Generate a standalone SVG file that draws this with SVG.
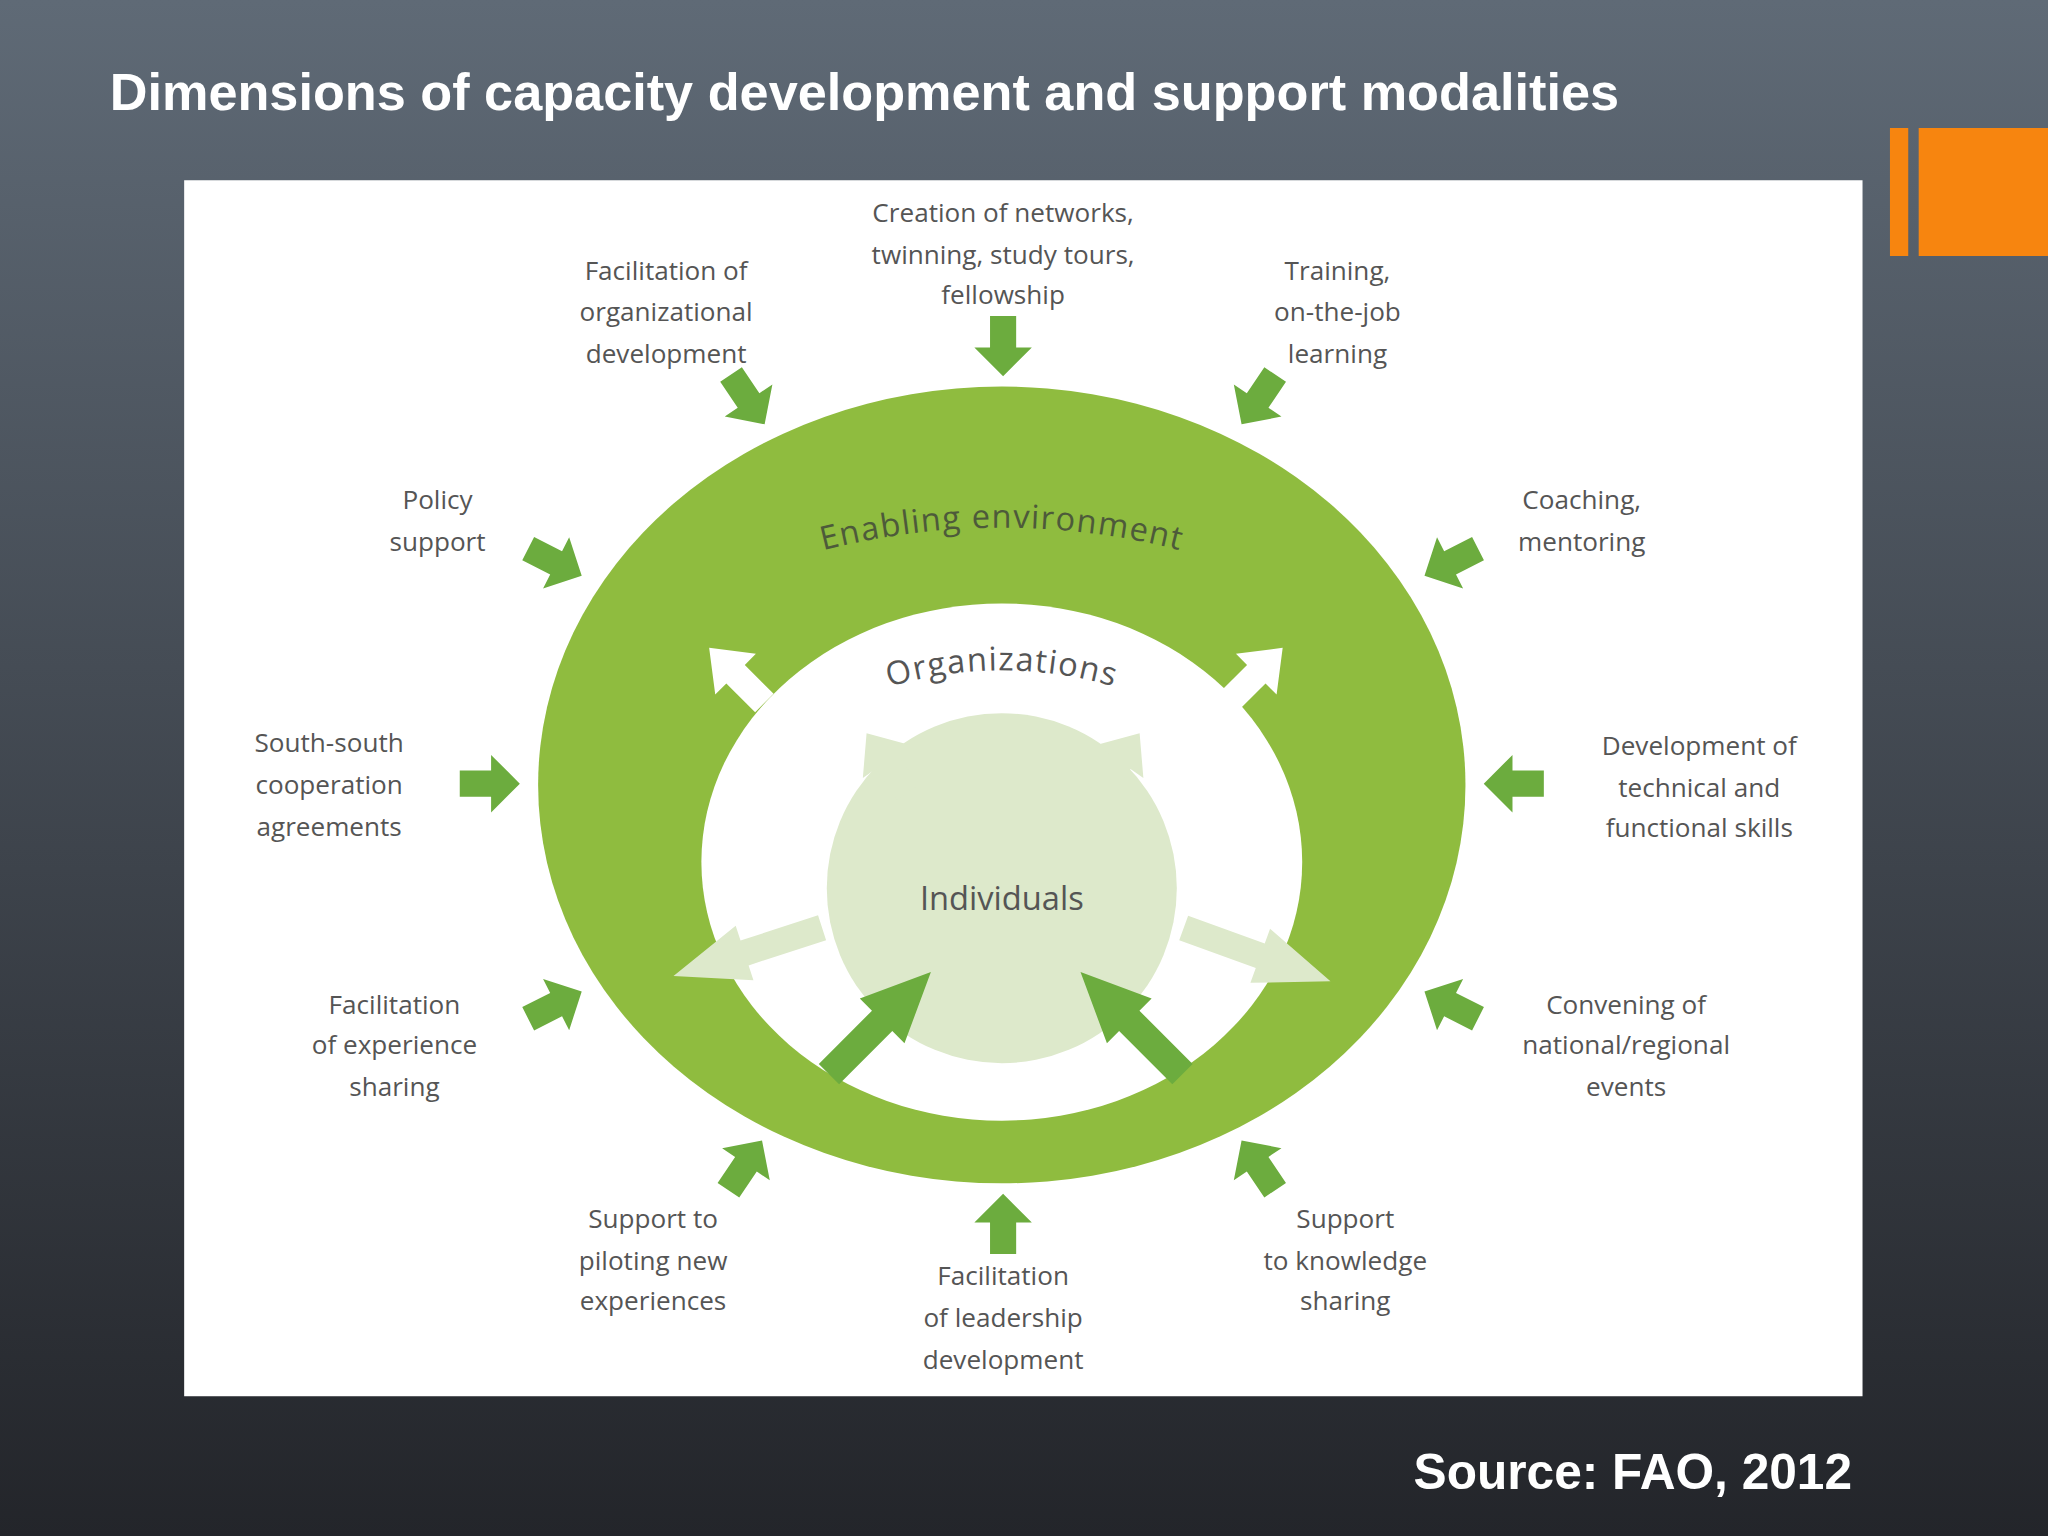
<svg xmlns="http://www.w3.org/2000/svg" width="2048" height="1536" viewBox="0 0 2048 1536">
<defs>
<linearGradient id="bg" x1="0" y1="0" x2="0" y2="1"><stop offset="0" stop-color="#5f6a76"/><stop offset="1" stop-color="#23252a"/></linearGradient>
<path id="arw" d="M-22,-10 L2,-10 L2,-22 L24,0 L2,22 L2,10 L-22,10 Z"/>
<path id="arcE" d="M 600,430 A 550,550 0 0 1 934,430"/>
<path id="arcO" d="M 660,533 A 300,300 0 0 1 874,533"/>
</defs>
<style>
.lbl{font-family:"Open Sans","DejaVu Sans",sans-serif;font-size:20px;fill:#555;text-anchor:middle}
.ga{fill:#6cac3e}
.wa{fill:#ffffff}
.la{fill:#dde9cb}
</style>
<g transform="scale(1.30612)">
<rect width="1568" height="1176" fill="url(#bg)"/>
<text x="84" y="84" font-family="Liberation Sans,Arial,sans-serif" font-weight="bold" font-size="40" fill="#fff">Dimensions of capacity development and support modalities</text>
<rect x="1447" y="98" width="14" height="98" fill="#f7850f"/>
<rect x="1469" y="98" width="99" height="98" fill="#f7850f"/>
<rect x="141" y="138" width="1285" height="931" fill="#fff"/>
<g id="rings">
<ellipse cx="767" cy="601" rx="355" ry="305" fill="#8fbc3f"/>
<ellipse cx="767" cy="660" rx="230" ry="198" fill="#fff"/>
<circle cx="767" cy="680" r="134" fill="#dde9cb"/>
</g>
<g id="inner-arrows">
<use href="#arw" class="la" transform="translate(575,728) rotate(162) scale(2.6,1)"/>
<use href="#arw" class="la" transform="translate(960,730) rotate(20) scale(2.6,1)"/>
<use href="#arw" class="la" transform="translate(680,585) rotate(-125) scale(1.2,1)"/>
<use href="#arw" class="la" transform="translate(856,585) rotate(-55) scale(1.2,1)"/>
<use href="#arw" class="wa" transform="translate(565,518) rotate(-135) scale(1.3,1)"/>
<use href="#arw" class="wa" transform="translate(960,518) rotate(-45) scale(1.3,1)"/>
<use href="#arw" class="wa" transform="translate(570,628)"/>
<use href="#arw" class="wa" transform="translate(966,628) rotate(180)"/>
<use href="#arw" class="ga" transform="translate(672,785) rotate(-45) scale(2.4,1.1)"/>
<use href="#arw" class="ga" transform="translate(868,785) rotate(-135) scale(2.4,1.1)"/>
</g>
<text font-family="Open Sans,DejaVu Sans,sans-serif" font-size="25" fill="#4d5a3a" letter-spacing="1"><textPath href="#arcE" startOffset="50%" text-anchor="middle">Enabling environment</textPath></text>
<text font-family="Open Sans,DejaVu Sans,sans-serif" font-size="25" fill="#555" letter-spacing="1"><textPath href="#arcO" startOffset="50%" text-anchor="middle">Organizations</textPath></text>
<text x="767" y="697" font-family="Open Sans,DejaVu Sans,sans-serif" font-size="25" fill="#555" text-anchor="middle">Individuals</text>
<g id="outer-arrows" class="ga">
<use href="#arw" transform="translate(768,264) rotate(90)"/>
<use href="#arw" transform="translate(572,305) rotate(56)"/>
<use href="#arw" transform="translate(964,305) rotate(124)"/>
<use href="#arw" transform="translate(424,430) rotate(27)"/>
<use href="#arw" transform="translate(1112,430) rotate(153)"/>
<use href="#arw" transform="translate(374,600)"/>
<use href="#arw" transform="translate(1160,600) rotate(180)"/>
<use href="#arw" transform="translate(424,770) rotate(-27)"/>
<use href="#arw" transform="translate(1112,770) rotate(-153)"/>
<use href="#arw" transform="translate(570,893) rotate(-56)"/>
<use href="#arw" transform="translate(964,893) rotate(-124)"/>
<use href="#arw" transform="translate(768,938) rotate(-90)"/>
</g>
<g id="labels">
<text class="lbl"><tspan x="768" y="170">Creation of networks,</tspan><tspan x="768" y="202">twinning, study tours,</tspan><tspan x="768" y="233">fellowship</tspan></text>
<text class="lbl"><tspan x="510" y="214">Facilitation of</tspan><tspan x="510" y="246">organizational</tspan><tspan x="510" y="278">development</tspan></text>
<text class="lbl"><tspan x="1024" y="214">Training,</tspan><tspan x="1024" y="246">on-the-job</tspan><tspan x="1024" y="278">learning</tspan></text>
<text class="lbl"><tspan x="335" y="390">Policy</tspan><tspan x="335" y="422">support</tspan></text>
<text class="lbl"><tspan x="1211" y="390">Coaching,</tspan><tspan x="1211" y="422">mentoring</tspan></text>
<text class="lbl"><tspan x="252" y="576">South-south</tspan><tspan x="252" y="608">cooperation</tspan><tspan x="252" y="640">agreements</tspan></text>
<text class="lbl"><tspan x="1301" y="578">Development of</tspan><tspan x="1301" y="610">technical and</tspan><tspan x="1301" y="641">functional skills</tspan></text>
<text class="lbl"><tspan x="302" y="776">Facilitation</tspan><tspan x="302" y="807">of experience</tspan><tspan x="302" y="839">sharing</tspan></text>
<text class="lbl"><tspan x="1245" y="776">Convening of</tspan><tspan x="1245" y="807">national/regional</tspan><tspan x="1245" y="839">events</tspan></text>
<text class="lbl"><tspan x="500" y="940">Support to</tspan><tspan x="500" y="972">piloting new</tspan><tspan x="500" y="1003">experiences</tspan></text>
<text class="lbl"><tspan x="1030" y="940">Support</tspan><tspan x="1030" y="972">to knowledge</tspan><tspan x="1030" y="1003">sharing</tspan></text>
<text class="lbl"><tspan x="768" y="984">Facilitation</tspan><tspan x="768" y="1016">of leadership</tspan><tspan x="768" y="1048">development</tspan></text>
</g>
<text x="1418" y="1140" font-family="Liberation Sans,Arial,sans-serif" font-weight="bold" font-size="38" fill="#fff" text-anchor="end">Source: FAO, 2012</text>
</g>
</svg>
